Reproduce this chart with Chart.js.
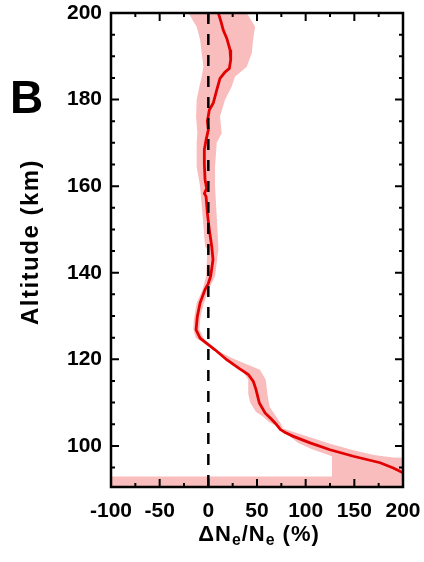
<!DOCTYPE html>
<html>
<head>
<meta charset="utf-8">
<script src="https://cdn.jsdelivr.net/npm/chart.js@4/dist/chart.umd.min.js"></script>
<style>
  html, body { margin: 0; padding: 0; background: #fff; }
  #wrap { position: relative; width: 424px; height: 562px; overflow: hidden; }
  .lbl { position: absolute; font-family: "Liberation Sans", Arial, sans-serif; font-weight: bold; line-height: 1; white-space: nowrap; }
  #panel { left: 10px; top: 74px; font-size: 46px; }
  #ytitle {
    left: -70px; top: 230px; width: 200px; text-align: center;
    font-size: 24px; letter-spacing: 1.5px; transform: rotate(-90deg);
  }
  #xtitle { left: 111px; width: 296px; top: 523px; text-align: center; font-size: 22px; letter-spacing: 1px; }
  #xtitle sub { font-size: 0.72em; vertical-align: -0.28em; line-height: 0; }
</style>
</head>
<body>
<div id="wrap">
  <canvas id="chart" width="424" height="562"></canvas>
  <div class="lbl" id="panel">B</div>
  <div class="lbl" id="ytitle">Altitude (km)</div>
  <div class="lbl" id="xtitle">ΔN<sub>e</sub>/N<sub>e</sub> (%)</div>
</div>
<script>
"use strict";

/* Altitude profile of the relative electron density change, with its spread. */

const X_RANGE = [-100, 200];
const Y_RANGE = [90.5, 200];
const X_TICKS = [-100, -50, 0, 50, 100, 150, 200];
const Y_TICKS = [100, 120, 140, 160, 180, 200];

// mean profile, read top to bottom
const ALT_KM = [
  200, 198, 196, 194.2, 191.5, 189.2, 187.2, 186.3, 184.9, 182.2,
  179.2, 177.6, 175, 173, 170.7, 168.4, 165.3, 161.5, 159.5, 158.3,
  157.6, 153.8, 149.9, 146.1, 143, 139.2, 137.5, 136.1, 133, 129.9,
  126.8, 124.9, 123.4, 122.2, 119.9, 118, 116.5, 114.9, 113, 109.9,
  107.6, 106.1, 105.3, 103.8, 103.1, 102.2, 100.7, 99.1, 97.6, 96.1,
  94.9, 93.9, 93.5,
];
const DNE_PCT = [
  10.3, 13, 15.4, 18.9, 22.3, 23, 21.6, 17, 12, 8.6,
  5.1, 1, -1, 0, -2.3, -4.1, -4.1, -3.4, -1.7, -4,
  -2.3, -1, 1, 3.5, 4.8, 2.4, 0, -3.4, -8.5, -11.3,
  -12.6, -8.5, 0, 6.9, 18.9, 30.8, 41.1, 46.2, 49, 52.4,
  58.3, 65.2, 68.6, 74, 79, 87.4, 104.5, 125, 149, 176.5,
  190, 198.8, 206,
];

// spread envelope: upper/left edge from the top down to the right border
const BAND_LEFT = [
  [-20.5, 200], [-12, 196.8], [-8.5, 193.8], [-6.8, 190.7], [-5.1, 187.6],
  [-6.8, 185.3], [-9.2, 183], [-12, 179.9], [-12.6, 176.1], [-11.3, 172.2],
  [-12, 169.9], [-12, 164.5], [-8.5, 160], [-5.8, 153], [-3.4, 146.1],
  [-1, 145.3], [-2.3, 139.2], [-6, 136], [-12, 133], [-15, 129],
  [-15.4, 126.8], [-13, 125], [-8, 124.2], [-3, 123.5], [4, 122.4],
  [16, 120.4], [30, 118.5], [36, 117], [41, 115.3], [41, 112],
  [43, 110], [49, 107.8], [56, 106.8], [62, 105.6], [70, 104.6],
  [86, 103.3], [104.5, 102], [125, 100.5], [149, 99], [170, 97.9],
  [190, 97.3], [206, 97.2],
];
// floor of the envelope along the bottom of the plot
const BAND_FLOOR = [
  [206, 90], [-106, 90], [-106, 92.9], [127, 92.9],
];
// lower/right edge from the floor back up to the top
const BAND_RIGHT = [
  [127, 97.6], [106, 99.3], [92, 100.7], [83, 102.3], [78, 103.6],
  [74, 105.3], [69, 107], [63, 109], [61, 111.5], [59, 115.3],
  [53, 117.6], [40, 118.8], [24, 120.3], [10, 122], [3, 123],
  [-2, 124], [-5, 125], [-9.2, 126.8], [-8, 130], [-4.4, 133],
  [0, 136], [6.9, 139.2], [10.3, 145.3], [10.3, 146.1], [8.6, 153],
  [6.9, 160], [6.9, 164.5], [8.6, 170], [13.7, 172.2], [12, 176.1],
  [17.1, 179.9], [24, 183], [27.4, 185.3], [39.5, 187.6], [44.6, 190.7],
  [46, 193.8], [48, 196.8], [39.5, 200],
];

const RED = "#e30000";
const PINK = "#f9bdbd";
const FONT = '"Liberation Sans", Arial, sans-serif';

Chart.defaults.font.family = FONT;
Chart.defaults.color = "#000";

const toPts = (arr) => arr.map(([x, y]) => ({ x, y }));

const profile = ALT_KM.map((a, i) => ({ x: DNE_PCT[i], y: a }));
const envelope = toPts(BAND_LEFT.concat(BAND_FLOOR, BAND_RIGHT, [BAND_LEFT[0]]));
const zeroLine = [{ x: 0, y: Y_RANGE[1] }, { x: 0, y: Y_RANGE[0] }];

// keep the plot box fixed: no extra room for overhanging end labels
const noOverhang = (s) => {
  s.paddingTop = 0; s.paddingBottom = 0; s.paddingLeft = 0; s.paddingRight = 0;
};

/* IDL-style frame: box on all four sides, ticks pointing inward. */
const frameTicks = {
  id: "frameTicks",
  afterDatasetsDraw(chart) {
    const { ctx, chartArea: a, scales: { x, y } } = chart;
    ctx.save();
    ctx.strokeStyle = "#000";
    ctx.lineWidth = 2;
    ctx.beginPath();
    for (let v = X_RANGE[0]; v <= X_RANGE[1]; v += 25) {
      const px = x.getPixelForValue(v);
      const len = v % 50 === 0 ? 8 : 4;
      ctx.moveTo(px, a.bottom); ctx.lineTo(px, a.bottom - len);
      ctx.moveTo(px, a.top); ctx.lineTo(px, a.top + len);
    }
    for (let v = 95; v <= Y_RANGE[1]; v += 5) {
      const py = y.getPixelForValue(v);
      const len = v % 20 === 0 ? 8 : 4;
      ctx.moveTo(a.left, py); ctx.lineTo(a.left + len, py);
      ctx.moveTo(a.right, py); ctx.lineTo(a.right - len, py);
    }
    ctx.stroke();
    ctx.lineWidth = 2.5;
    ctx.strokeRect(a.left, a.top, a.right - a.left, a.bottom - a.top);
    ctx.restore();
  },
};

new Chart(document.getElementById("chart"), {
  type: "scatter",
  data: {
    datasets: [
      {
        data: zeroLine, showLine: true, borderColor: "#000", borderWidth: 2.5,
        borderDash: [11, 10], pointRadius: 0,
      },
      {
        data: profile, showLine: true, borderColor: RED, borderWidth: 2.8,
        pointRadius: 0, tension: 0,
      },
      {
        data: envelope, showLine: true, fill: "shape", backgroundColor: PINK,
        borderColor: "rgba(0,0,0,0)", borderWidth: 0, pointRadius: 0,
      },
    ],
  },
  options: {
    responsive: false,
    animation: false,
    devicePixelRatio: 1,
    layout: { padding: { top: 13, right: 21, left: 0, bottom: 0 } },
    plugins: { legend: { display: false }, tooltip: { enabled: false } },
    scales: {
      x: {
        type: "linear", min: X_RANGE[0], max: X_RANGE[1],
        afterBuildTicks: (s) => { s.ticks = X_TICKS.map((value) => ({ value })); },
        afterFit: (s) => { s.height = 75; noOverhang(s); },
        grid: { display: false, drawTicks: false },
        border: { display: false },
        ticks: { padding: 12, maxRotation: 0, autoSkip: false, font: { size: 21, weight: "bold" } },
      },
      y: {
        type: "linear", min: Y_RANGE[0], max: Y_RANGE[1],
        afterBuildTicks: (s) => { s.ticks = Y_TICKS.map((value) => ({ value })); },
        afterFit: (s) => { s.width = 111; noOverhang(s); },
        grid: { display: false, drawTicks: false },
        border: { display: false },
        ticks: { padding: 9, autoSkip: false, font: { size: 21, weight: "bold" } },
      },
    },
  },
  plugins: [frameTicks],
});
</script>
</body>
</html>
